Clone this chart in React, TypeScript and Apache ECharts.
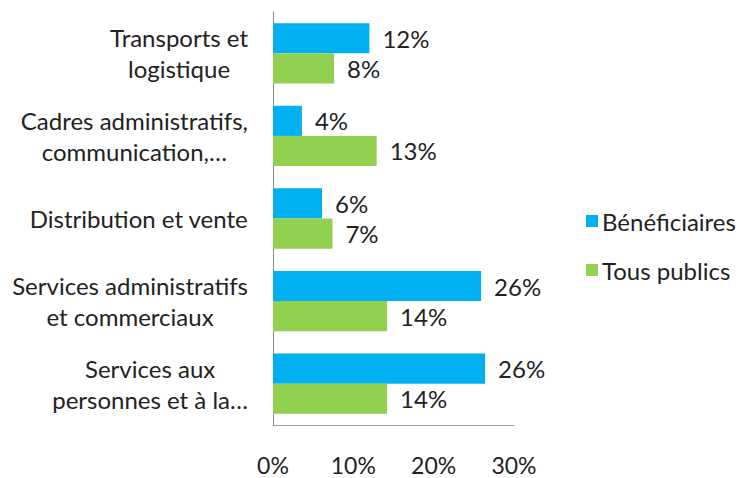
import React, { useEffect, useRef } from "react";
import * as echarts from "echarts";

const categories = [
  ["Transports et", "logistique"],
  ["Cadres administratifs,", "communication,\u2026"],
  ["Distribution et vente"],
  ["Services administratifs", "et commerciaux"],
  ["Services aux", "personnes et \u00e0 la\u2026"],
];
const beneficiaires = [12, 3.6, 6.1, 25.9, 26.4];
const tousPublics = [7.6, 12.9, 7.4, 14.2, 14.2];
const xTicks = [0, 10, 20, 30];

const FONT = "Lato, 'Open Sans', sans-serif";
const FS = 24;

export default function App() {
  const ref = useRef<HTMLDivElement>(null);
  useEffect(() => {
    if (!ref.current) return;
    const chart = echarts.init(ref.current, undefined, { renderer: "svg" });
    const labelStyle = {
      show: true,
      position: "right" as const,
      distance: 13,
      color: "#222",
      fontSize: FS,
      fontFamily: FONT,
      formatter: (p: any) => Math.round(p.value) + "%",
    };
    chart.setOption({
      animation: false,
      textStyle: { fontFamily: FONT },
      grid: { left: 273, right: 230, top: 12, bottom: 53, containLabel: false },
      legend: {
        orient: "vertical",
        left: 581,
        top: 204,
        itemWidth: 12,
        itemHeight: 12,
        itemGap: 25,
        icon: "rect",
        textStyle: { fontSize: FS, color: "#222", fontFamily: FONT, padding: [0, 0, 0, -1] },
        data: ["Bénéficiaires", "Tous publics"],
      },
      xAxis: {
        type: "value",
        min: xTicks[0],
        max: xTicks[xTicks.length - 1],
        interval: 10,
        splitLine: { show: false },
        axisLine: { show: true, lineStyle: { color: "#a0a0a0", width: 1 } },
        axisTick: { show: false },
        axisLabel: {
          margin: 28,
          fontSize: 23,
          color: "#222",
          fontFamily: FONT,
          formatter: (v: number) => v + "%",
        },
      },
      yAxis: {
        type: "category",
        inverse: true,
        data: categories.map((c) => c.join("\n")),
        axisLine: { show: true, lineStyle: { color: "#8a8a8a", width: 1 } },
        axisTick: { show: false },
        axisLabel: {
          margin: 25,
          fontSize: FS,
          color: "#222",
          fontFamily: FONT,
          lineHeight: 31,
          formatter: (v: string) =>
            v
              .split("\n")
              .map((l) => "{c|" + l + "}")
              .join("\n"),
          rich: {
            c: { align: "center", fontSize: FS, color: "#222", fontFamily: FONT, lineHeight: 31 },
          },
        },
      },
      series: [
        {
          name: "Bénéficiaires",
          type: "bar",
          data: beneficiaires,
          barGap: "0%",
          barCategoryGap: "27%",
          itemStyle: { color: "#00b0f0" },
          label: labelStyle,
        },
        {
          name: "Tous publics",
          type: "bar",
          data: tousPublics,
          barGap: "0%",
          barCategoryGap: "27%",
          itemStyle: { color: "#92d050" },
          label: labelStyle,
        },
      ],
    });
    return () => chart.dispose();
  }, []);
  return <div ref={ref} style={{ width: 744, height: 478, position: "absolute", left: 0, top: 0 }} />;
}
